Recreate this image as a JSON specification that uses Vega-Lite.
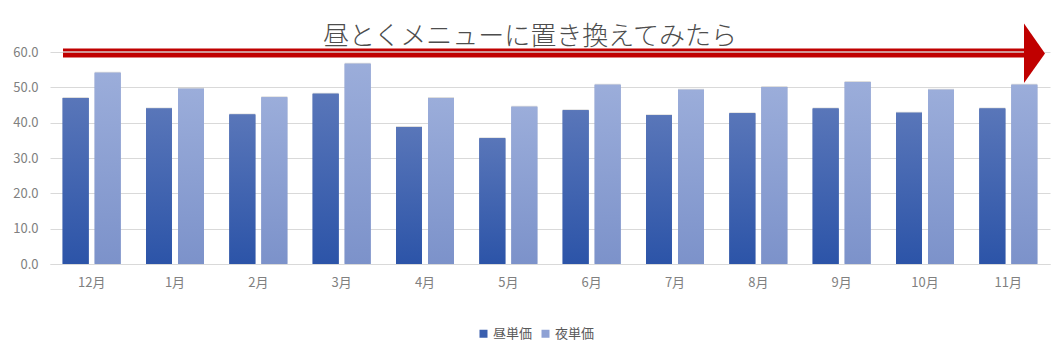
{
  "$schema": "https://vega.github.io/schema/vega-lite/v6.json",
  "width": 1000,
  "height": 212,
  "autosize": {"type": "none"},
  "padding": {"left": 50, "top": 52, "right": 13, "bottom": 92},
  "background": "white",
  "config": {
    "font": "Noto Sans CJK JP",
    "view": {"stroke": null},
    "axis": {"labelFont": "Noto Sans CJK JP", "labelFontSize": 13, "labelColor": "#808080", "gridColor": "#d9d9d9", "gridWidth": 1.2}
  },
  "datasets": {
    "bars": [
      {"month": "12月", "series": "昼単価", "value": 47.0},
      {"month": "12月", "series": "夜単価", "value": 54.1},
      {"month": "1月", "series": "昼単価", "value": 44.0},
      {"month": "1月", "series": "夜単価", "value": 49.6},
      {"month": "2月", "series": "昼単価", "value": 42.3},
      {"month": "2月", "series": "夜単価", "value": 47.2},
      {"month": "3月", "series": "昼単価", "value": 48.2},
      {"month": "3月", "series": "夜単価", "value": 56.7},
      {"month": "4月", "series": "昼単価", "value": 38.8},
      {"month": "4月", "series": "夜単価", "value": 47.0},
      {"month": "5月", "series": "昼単価", "value": 35.6},
      {"month": "5月", "series": "夜単価", "value": 44.5},
      {"month": "6月", "series": "昼単価", "value": 43.5},
      {"month": "6月", "series": "夜単価", "value": 50.7},
      {"month": "7月", "series": "昼単価", "value": 42.1},
      {"month": "7月", "series": "夜単価", "value": 49.3},
      {"month": "8月", "series": "昼単価", "value": 42.7},
      {"month": "8月", "series": "夜単価", "value": 50.1},
      {"month": "9月", "series": "昼単価", "value": 44.0},
      {"month": "9月", "series": "夜単価", "value": 51.5},
      {"month": "10月", "series": "昼単価", "value": 42.8},
      {"month": "10月", "series": "夜単価", "value": 49.3},
      {"month": "11月", "series": "昼単価", "value": 44.0},
      {"month": "11月", "series": "夜単価", "value": 50.7}
    ],
    "shaft": [{"s": 13, "e": 974, "v": 59.7}],
    "gline": [{"s": 13, "e": 974, "v": 60.0}],
    "head": [
      {"hx": 974, "lo": 51.2, "hi": 68.1},
      {"hx": 995, "lo": 59.6, "hi": 59.6}
    ],
    "label": [{"tx": 480, "ty": 61.9, "t": "昼とくメニューに置き換えてみたら"}]
  },
  "layer": [
    {
      "data": {"name": "bars"},
      "encoding": {
        "x": {
          "field": "month", "type": "nominal",
          "sort": ["12月", "1月", "2月", "3月", "4月", "5月", "6月", "7月", "8月", "9月", "10月", "11月"],
          "scale": {"paddingInner": 0.304, "paddingOuter": 0.152},
          "axis": {"title": null, "labelAngle": 0, "ticks": false, "domain": true, "domainColor": "#d9d9d9", "domainWidth": 1.2, "labelPadding": 12, "grid": false}
        },
        "xOffset": {
          "field": "series", "type": "nominal",
          "scale": {"domain": ["昼単価", "夜単価"], "paddingInner": 0.1875, "paddingOuter": 0}
        },
        "y": {
          "field": "value", "type": "quantitative",
          "scale": {"domain": [0, 60], "nice": false},
          "axis": {"title": null, "values": [0, 10, 20, 30, 40, 50, 60], "format": ".1f", "domain": false, "ticks": false, "labelPadding": 12, "labelOverlap": false}
        }
      },
      "layer": [
        {
          "mark": {"type": "bar", "fill": "#000000", "opacity": 0.13, "xOffset": 1.5, "yOffset": -1},
          "encoding": {}
        },
        {
          "mark": {"type": "bar"},
          "encoding": {
            "color": {
              "field": "series", "type": "nominal",
              "scale": {"domain": ["昼単価", "夜単価"], "range": ["#3a5fae", "#8ea1d4"]},
              "legend": {
                "title": null, "orient": "none", "direction": "horizontal",
                "legendX": 427, "legendY": 275,
                "symbolType": "square", "symbolSize": 64, "symbolStrokeWidth": 0,
                "labelFontSize": 13, "labelColor": "#595959", "labelFont": "Noto Sans CJK JP",
                "columnPadding": 6, "labelOffset": 3
              }
            }
          }
        },
        {
          "transform": [{"filter": "datum.series === '昼単価'"}],
          "mark": {
            "type": "bar",
            "fill": {"gradient": "linear", "x1": 0, "y1": 0, "x2": 0, "y2": 1,
              "stops": [{"offset": 0, "color": "#5976b9"}, {"offset": 1, "color": "#2c54a8"}]}
          },
          "encoding": {}
        },
        {
          "transform": [{"filter": "datum.series === '夜単価'"}],
          "mark": {
            "type": "bar",
            "fill": {"gradient": "linear", "x1": 0, "y1": 0, "x2": 0, "y2": 1,
              "stops": [{"offset": 0, "color": "#9badda"}, {"offset": 1, "color": "#7c92ca"}]}
          },
          "encoding": {}
        }
      ]
    },
    {
      "encoding": {
        "y": {"type": "quantitative", "scale": {"domain": [0, 60], "nice": false},
          "axis": {"title": null, "values": [0, 10, 20, 30, 40, 50, 60], "format": ".1f", "domain": false, "ticks": false, "labelPadding": 12, "labelOverlap": false}}
      },
      "layer": [
        {
          "data": {"name": "shaft"},
          "mark": {"type": "rule", "color": "#c00000", "strokeWidth": 9, "clip": false},
          "encoding": {
            "x": {"field": "s", "type": "quantitative", "scale": {"domain": [0, 1000], "nice": false, "zero": false}, "axis": null},
            "x2": {"field": "e"},
            "y": {"field": "v", "type": "quantitative"}
          }
        },
        {
          "data": {"name": "gline"},
          "mark": {"type": "rule", "color": "#d9c9c9", "strokeWidth": 1.5, "clip": false},
          "encoding": {
            "x": {"field": "s", "type": "quantitative", "scale": {"domain": [0, 1000], "nice": false, "zero": false}, "axis": null},
            "x2": {"field": "e"},
            "y": {"field": "v", "type": "quantitative"}
          }
        },
        {
          "data": {"name": "head"},
          "mark": {"type": "area", "color": "#c00000", "clip": false},
          "encoding": {
            "x": {"field": "hx", "type": "quantitative", "scale": {"domain": [0, 1000], "nice": false, "zero": false}, "axis": null},
            "y": {"field": "lo", "type": "quantitative"},
            "y2": {"field": "hi"}
          }
        },
        {
          "data": {"name": "label"},
          "mark": {"type": "text", "font": "Noto Sans CJK JP", "fontSize": 26, "fontWeight": 300, "color": "#4d4d4d", "align": "center", "baseline": "alphabetic", "clip": false},
          "encoding": {
            "x": {"field": "tx", "type": "quantitative", "scale": {"domain": [0, 1000], "nice": false, "zero": false}, "axis": null},
            "y": {"field": "ty", "type": "quantitative"},
            "text": {"field": "t"}
          }
        }
      ]
    }
  ],
  "resolve": {"scale": {"x": "independent"}, "axis": {"x": "independent"}}
}
